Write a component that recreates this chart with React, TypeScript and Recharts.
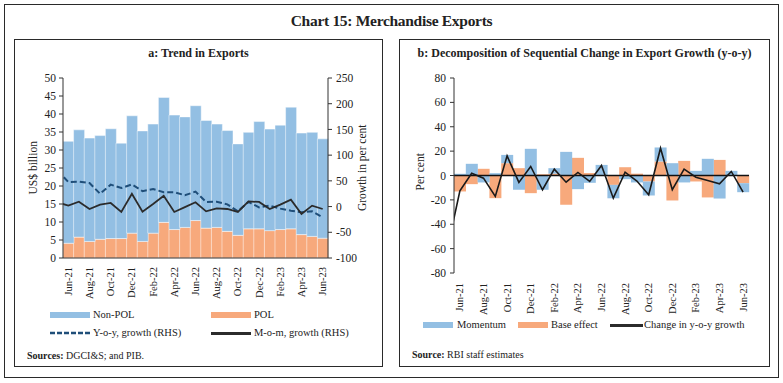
import { Bar, ComposedChart, Line, ReferenceLine, XAxis, YAxis } from 'recharts';

// months shown on both panels
const months = [
  'Jun-21', 'Jul-21', 'Aug-21', 'Sep-21', 'Oct-21', 'Nov-21', 'Dec-21', 'Jan-22', 'Feb-22',
  'Mar-22', 'Apr-22', 'May-22', 'Jun-22', 'Jul-22', 'Aug-22', 'Sep-22', 'Oct-22', 'Nov-22',
  'Dec-22', 'Jan-23', 'Feb-23', 'Mar-23', 'Apr-23', 'May-23', 'Jun-23',
];

// panel a: US$ billion
const polExports = [
  4.1, 5.8, 4.6, 5.2, 5.4, 5.4, 6.9, 4.6, 6.9, 9.9, 7.9, 8.5, 10.4, 8.3, 8.5, 7.4, 6.3, 8.1,
  8.1, 7.6, 7.9, 8.1, 6.5, 6.0, 5.5,
];
const nonPolExports = [
  28.3, 29.8, 28.7, 28.8, 30.5, 26.5, 32.6, 30.7, 30.3, 34.7, 31.8, 30.7, 31.9, 29.9, 28.7,
  28.0, 25.4, 26.8, 29.8, 28.2, 29.0, 33.8, 28.2, 28.9, 27.6,
];
// panel a: growth in per cent (RHS)
const yoyGrowth = [
  47.8, 48.4, 45.8, 25, 42.6, 36, 43, 30, 34, 28, 28, 22, 29, 9, 9.5, 4.4, -9.3, 9, -1.5, 1.8,
  -4, -8, -11, -9.3, -21,
];
const momGrowth = [
  1.8, 9.5, -4.7, 3.7, 7, -10.5, 25, -10, 5, 21, -10.5, -1, 8.5, -9.3, -3.4, -4.7, -10.5, 10,
  9, -4.7, 3.7, 13.4, -14.4, 1.8, -4.7,
];
// the month before Jun-21 is cut off at the left edge, only its tail shows
const yoyLead = 69.8;
const momLead = 8.2;

// panel b: per cent
const momentum = [
  1.4, 9.6, -5.7, 1.9, 6.8, -11.7, 21.9, -11.7, 4.5, 19.4, -11.2, -6, 8.7, -11, -3, -5.7,
  -11.5, 11.5, 10.1, -5.7, 3.8, 13.7, -18.9, 3.8, -7.4,
];
const baseEffect = [
  -13.1, -7.1, 5.5, -18.6, 10.1, 6, -14.5, 1, 1.5, -24, 14.5, 2, 0, -7.7, 6.8, 1.5, -4.9,
  11.5, -20.5, 12, -4.9, -18, 12.8, 0, -6.3,
];
const yoyChange = [
  -12.6, 1.9, -2.2, -17.2, 16.1, -5.7, 7.4, -11.7, 5.2, -5.5, 2.5, -4.9, 8.2, -18.6, 2.7,
  -4.5, -15.8, 22.4, -11.7, 5.2, -1.4, -4.1, -6.8, 3.3, -13.7,
];
const changeLead = -57.4;

const leftTicks = [0, 5, 10, 15, 20, 25, 30, 35, 40, 45, 50];
const rightTicks = [-100, -50, 0, 50, 100, 150, 200, 250];
const panelBTicks = [-80, -60, -40, -20, 0, 20, 40, 60, 80];

const BLUE = '#93bfe3';
const ORANGE = '#f7a97c';
const NAVY = '#1f4e79';
const FONT = "'Liberation Serif', 'Times New Roman', serif";
const INK = '#222';

const exportsData = months.map((m, i) => ({
  m,
  pol: polExports[i],
  nonPol: nonPolExports[i],
}));

const decompData = months.map((m, i) => ({
  m,
  momentum: momentum[i],
  base: baseEffect[i],
}));

// lines sit on a hidden numeric axis so the lead-in point can be clipped
const lineSeries = (lead: number, values: number[]) => [
  { x: -0.5, v: lead },
  ...values.map((v, i) => ({ x: i + 0.5, v })),
];

const tickStyle = { fontSize: 11.5, fill: INK, fontFamily: FONT };

const MonthTick = (props: any) => {
  const { x, y, payload } = props;
  return (
    <text
      x={x}
      y={y}
      transform={`rotate(-90 ${x} ${y})`}
      textAnchor="end"
      dominantBaseline="central"
      fontSize={10.5}
      fill={INK}
      fontFamily={FONT}
    >
      {payload.value}
    </text>
  );
};

const box = (left: number, top: number, width: number, height: number): React.CSSProperties => ({
  position: 'absolute',
  left,
  top,
  width,
  height,
  border: '1.2px solid #2a2a2a',
  boxSizing: 'border-box',
});

const text = (left: number, top: number, size: number, extra: React.CSSProperties = {}): React.CSSProperties => ({
  position: 'absolute',
  left,
  top,
  fontSize: size,
  lineHeight: 1,
  whiteSpace: 'nowrap',
  color: INK,
  transform: 'translateY(-50%)',
  ...extra,
});

// rotated axis title centred on (cx, cy)
const vText = (cx: number, cy: number, size: number): React.CSSProperties => ({
  position: 'absolute',
  left: cx - 100,
  top: cy - size / 2,
  width: 200,
  height: size,
  fontSize: size,
  lineHeight: 1,
  textAlign: 'center',
  whiteSpace: 'nowrap',
  color: INK,
  transformOrigin: '50% 50%',
  transform: 'rotate(-90deg)',
});

const swatch = (left: number, top: number, width: number, height: number, color: string): React.CSSProperties => ({
  position: 'absolute',
  left,
  top,
  width,
  height,
  background: color,
});

export default function App() {
  return (
    <div
      style={{
        position: 'absolute',
        left: 0,
        top: 0,
        width: 783,
        height: 383,
        background: '#fff',
        fontFamily: FONT,
      }}
    >
      <div style={box(4, 4, 775, 374)} />
      <div style={{ ...text(0, 21, 15.5, { fontWeight: 'bold', width: 783, textAlign: 'center', letterSpacing: -0.3 }) }}>
        Chart 15: Merchandise Exports
      </div>

      {/* panel a */}
      <div style={box(14, 39, 369, 328)} />
      <div style={text(14, 53, 12, { fontWeight: 'bold', width: 369, textAlign: 'center' })}>
        a: Trend in Exports
      </div>
      <div style={vText(34, 168, 11.5)}>US$ billion</div>
      <div style={vText(363, 168, 11.5)}>Growth in per cent</div>
      <div style={{ position: 'absolute', left: 14, top: 39 }}>
        <ComposedChart
          width={369}
          height={328}
          data={exportsData}
          margin={{ top: 39, right: 0, bottom: 0, left: 0 }}
          barCategoryGap={0}
          barGap={0}
        >
          <XAxis
            dataKey="m"
            height={109}
            interval={1}
            tickLine={false}
            axisLine={{ stroke: '#333' }}
            tick={<MonthTick />}
            tickMargin={3}
          />
          <XAxis xAxisId="n" type="number" dataKey="x" domain={[0, 25]} allowDataOverflow hide />
          <YAxis
            yAxisId="left"
            width={49}
            domain={[0, 50]}
            ticks={leftTicks}
            interval={0}
            tick={tickStyle}
            tickSize={4}
            tickMargin={3}
            stroke="#333"
          />
          <YAxis
            yAxisId="right"
            orientation="right"
            width={55}
            domain={[-100, 250]}
            ticks={rightTicks}
            interval={0}
            tick={tickStyle}
            tickSize={4}
            tickMargin={4}
            stroke="#333"
          />
          <Bar
            yAxisId="left"
            dataKey="pol"
            stackId="exp"
            fill={ORANGE}
            stroke="rgba(255,255,255,0.45)"
            strokeWidth={1}
            isAnimationActive={false}
          />
          <Bar
            yAxisId="left"
            dataKey="nonPol"
            stackId="exp"
            fill={BLUE}
            stroke="rgba(255,255,255,0.45)"
            strokeWidth={1}
            isAnimationActive={false}
          />
          <Line
            xAxisId="n"
            yAxisId="right"
            data={lineSeries(yoyLead, yoyGrowth)}
            dataKey="v"
            stroke={NAVY}
            strokeWidth={2}
            strokeDasharray="6 3"
            dot={false}
            isAnimationActive={false}
          />
          <Line
            xAxisId="n"
            yAxisId="right"
            data={lineSeries(momLead, momGrowth)}
            dataKey="v"
            stroke="#2b2b2b"
            strokeWidth={1.8}
            dot={false}
            isAnimationActive={false}
          />
        </ComposedChart>
      </div>
      <div style={swatch(50, 312, 40, 6, BLUE)} />
      <div style={text(93, 315, 10.5)}>Non-POL</div>
      <div style={swatch(211, 312, 40, 6, ORANGE)} />
      <div style={text(254, 315, 10.5)}>POL</div>
      <svg style={{ position: 'absolute', left: 50, top: 330 }} width={41} height={6}>
        <line x1={0} y1={3} x2={41} y2={3} stroke={NAVY} strokeWidth={2.5} strokeDasharray="5 2" />
      </svg>
      <div style={text(93, 333, 10.5)}>Y-o-y, growth (RHS)</div>
      <div style={swatch(211, 332, 40, 2.5, '#2b2b2b')} />
      <div style={text(254, 333, 10.5)}>M-o-m, growth (RHS)</div>
      <div style={text(27, 356, 10)}>
        <b>Sources:</b> DGCI&amp;S; and PIB.
      </div>

      {/* panel b */}
      <div style={box(399, 39, 371, 328)} />
      <div style={text(399, 53, 12, { fontWeight: 'bold', width: 371, textAlign: 'center' })}>
        b: Decomposition of Sequential Change in Export Growth (y-o-y)
      </div>
      <div style={vText(421, 172, 11.5)}>Per cent</div>
      <div style={{ position: 'absolute', left: 399, top: 39 }}>
        <ComposedChart
          width={371}
          height={328}
          data={decompData}
          margin={{ top: 39, right: 21, bottom: 0, left: 0 }}
          barCategoryGap={0}
          barGap={0}
          stackOffset="sign"
        >
          <XAxis
            dataKey="m"
            height={94}
            interval={1}
            tickLine={false}
            axisLine={false}
            tick={<MonthTick />}
            tickMargin={4}
          />
          <XAxis xAxisId="n" type="number" dataKey="x" domain={[0, 25]} allowDataOverflow hide />
          <YAxis
            width={55}
            domain={[-80, 80]}
            ticks={panelBTicks}
            interval={0}
            tick={tickStyle}
            tickSize={4}
            tickMargin={4}
            stroke="#333"
          />
          <Bar dataKey="base" stackId="d" fill={ORANGE} isAnimationActive={false} />
          <Bar dataKey="momentum" stackId="d" fill={BLUE} isAnimationActive={false} />
          <ReferenceLine y={0} stroke="#111" strokeWidth={1.3} />
          <Line
            xAxisId="n"
            data={lineSeries(changeLead, yoyChange)}
            dataKey="v"
            stroke="#1a1a1a"
            strokeWidth={1.6}
            dot={false}
            isAnimationActive={false}
          />
        </ComposedChart>
      </div>
      <div style={swatch(423, 322, 30, 6, BLUE)} />
      <div style={text(457, 325, 10.5)}>Momentum</div>
      <div style={swatch(518, 322, 30, 6, ORANGE)} />
      <div style={text(551, 325, 10.5)}>Base effect</div>
      <div style={swatch(610, 324, 33, 2.5, '#2b2b2b')} />
      <div style={text(644, 325, 10.5)}>Change in y-o-y growth</div>
      <div style={text(412, 355, 10)}>
        <b>Source:</b> RBI staff estimates
      </div>
    </div>
  );
}
